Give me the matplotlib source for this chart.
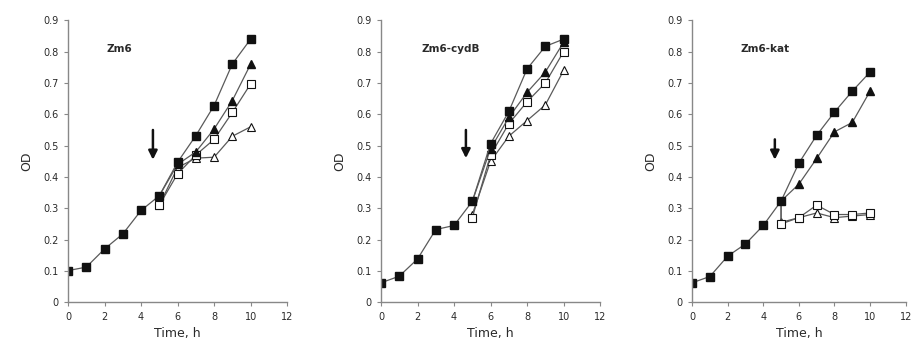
import numpy as np
import matplotlib.pyplot as plt

t = np.arange(0, 11)
t_late = np.arange(5, 11)

# Zm6
zm6_ctrl = [0.101, 0.112, 0.170, 0.218, 0.293, 0.340, 0.447, 0.532, 0.628, 0.761, 0.840]
zm6_tri = [0.340, 0.440, 0.480, 0.553, 0.644, 0.760]
zm6_osq = [0.310, 0.410, 0.470, 0.520, 0.606, 0.697]
zm6_otri = [0.310, 0.430, 0.460, 0.463, 0.530, 0.560]

# Zm6-cydB
cyd_ctrl = [0.062, 0.083, 0.138, 0.232, 0.245, 0.322, 0.506, 0.609, 0.745, 0.817, 0.840]
cyd_tri = [0.322, 0.490, 0.590, 0.670, 0.735, 0.830]
cyd_osq = [0.270, 0.470, 0.570, 0.640, 0.700, 0.800]
cyd_otri = [0.280, 0.450, 0.530, 0.580, 0.630, 0.740]

# Zm6-kat
kat_ctrl = [0.062, 0.082, 0.147, 0.186, 0.245, 0.323, 0.444, 0.533, 0.607, 0.674, 0.735]
kat_tri = [0.323, 0.377, 0.459, 0.544, 0.574, 0.674]
kat_t_open = [5, 5, 6, 7, 8, 9, 10]
kat_osq = [0.323, 0.250, 0.270, 0.310, 0.280, 0.280, 0.285]
kat_otri = [0.323, 0.255, 0.270, 0.285, 0.270, 0.275, 0.280]

panels = [
    ("Zm6", 2.8, zm6_ctrl, zm6_tri, t_late, zm6_osq, zm6_otri, 0.55, 0.455),
    ("Zm6-cydB", 3.8, cyd_ctrl, cyd_tri, t_late, cyd_osq, cyd_otri, 0.55, 0.46),
    ("Zm6-kat", 4.1, kat_ctrl, kat_tri, kat_t_open, kat_osq, kat_otri, 0.52, 0.455),
]

line_c = '#5a5a5a'
mark_c = '#111111'
text_c = '#2a2a2a'

fig = plt.figure(figsize=(9.13, 3.51), dpi=100)
boxes = [[0.0745, 0.139, 0.24, 0.803],
         [0.4173, 0.139, 0.24, 0.803],
         [0.758, 0.139, 0.234, 0.803]]

for box, (name, lx, ctrl, tri, t_open, osq, otri, a0, a1) in zip(boxes, panels):
    ax = fig.add_axes(box)
    skip = 1 if len(t_open) > len(t_late) else 0
    ax.plot(t_open, otri, color=line_c, lw=0.9, marker='^', ms=5.5, mfc='white',
            mec=mark_c, mew=0.8, markevery=slice(skip, None))
    ax.plot(t_open, osq, color=line_c, lw=0.9, marker='s', ms=5.5, mfc='white',
            mec=mark_c, mew=0.8, markevery=slice(skip, None))
    ax.plot(t_late, tri, color=line_c, lw=0.9, marker='^', ms=5.5, mfc=mark_c,
            mec=mark_c, markevery=slice(1, None))
    ax.plot(t, ctrl, color=line_c, lw=0.9, marker='s', ms=6, mfc=mark_c, mec=mark_c)

    # arrow marks the moment of addition
    ax.annotate('', xy=(4.65, a1), xytext=(4.65, a0),
                arrowprops=dict(arrowstyle='-|>', color=mark_c, lw=1.8,
                                mutation_scale=13, shrinkA=0, shrinkB=0))
    ax.text(lx, 0.81, name, fontsize=7.5, color=text_c, ha='center', va='center',
            fontweight='bold')

    ax.set_xlim(0, 12)
    ax.set_ylim(0, 0.9)
    ax.set_xticks(np.arange(0, 13, 2))
    ax.set_yticks(np.arange(0, 0.91, 0.1))
    ax.set_yticklabels(['0'] + ['%.1f' % v for v in np.arange(0.1, 0.91, 0.1)])
    for s in ['top', 'right']:
        ax.spines[s].set_visible(False)
    for s in ['left', 'bottom']:
        ax.spines[s].set_color('#888888')
        ax.spines[s].set_linewidth(1.0)
    ax.tick_params(direction='out', length=3, width=0.8, color='#888888',
                   labelsize=7, labelcolor=text_c, pad=4)
    ax.set_xlabel('Time, h', fontsize=9, color=text_c, labelpad=4)
    ax.set_ylabel('OD', fontsize=9, color=text_c, labelpad=7)
    ax.patch.set_alpha(0)

fig.savefig('out.png', dpi=100)
